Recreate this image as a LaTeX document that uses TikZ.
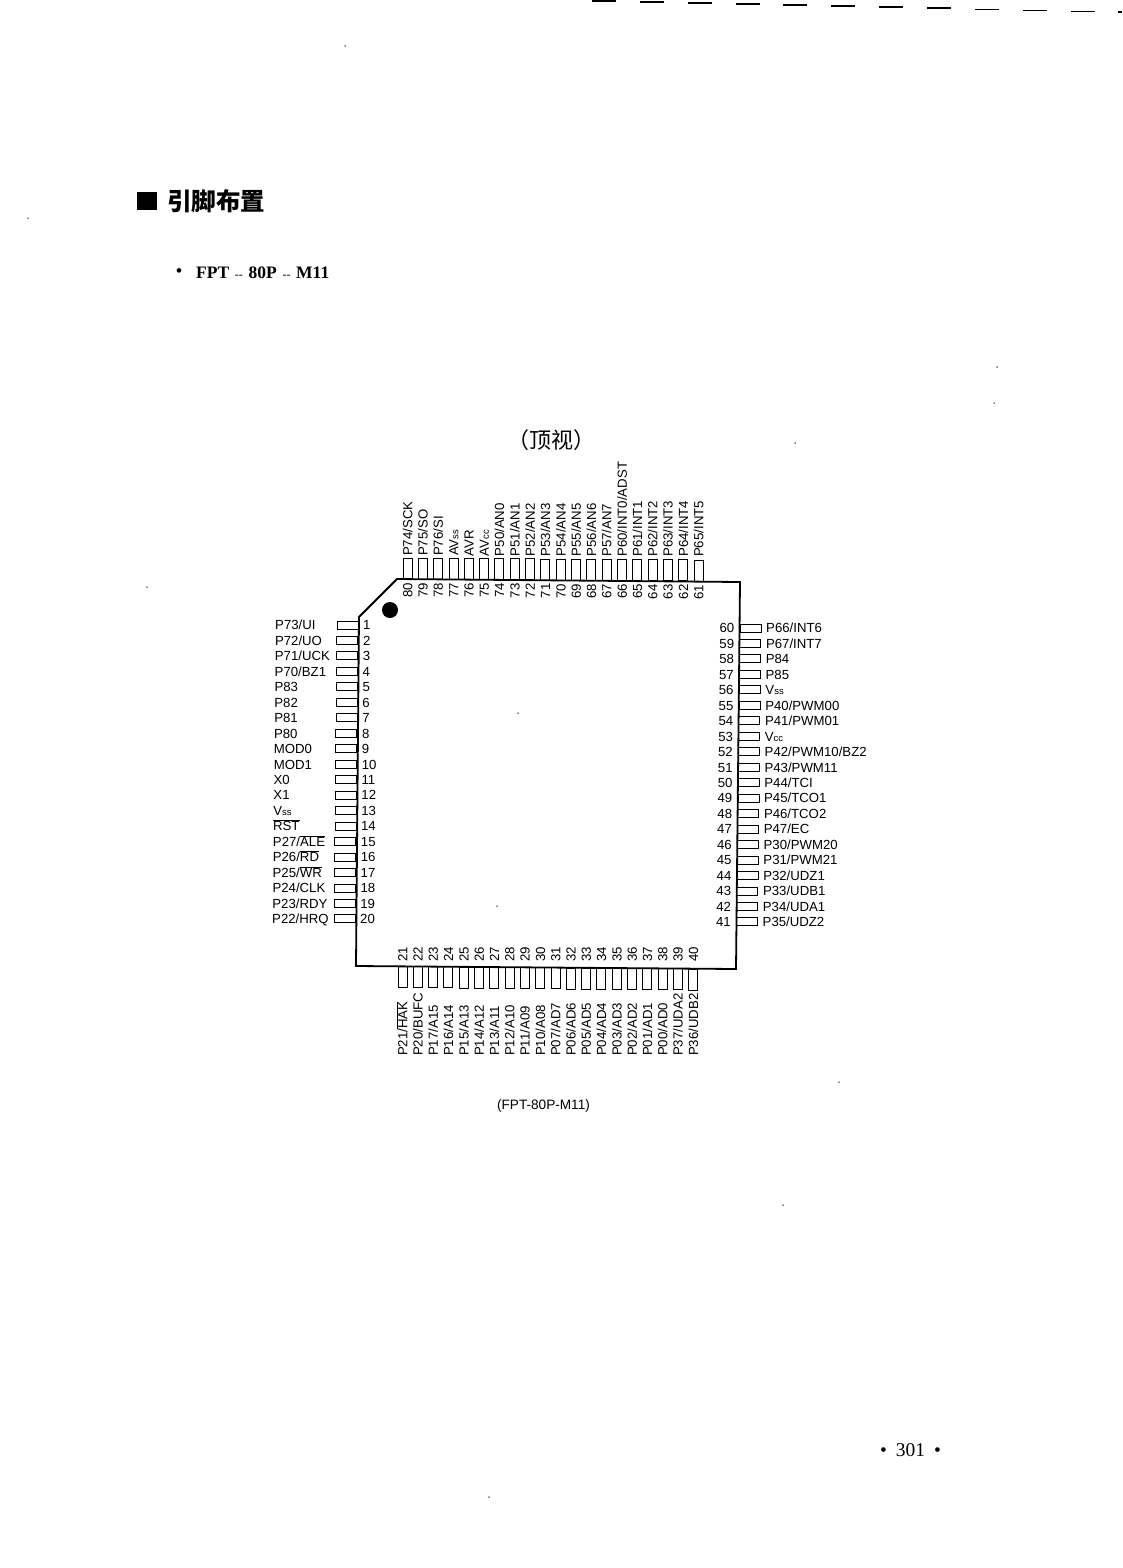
\documentclass[tikz,border=0pt]{standalone}
\usepackage{fontspec}
\setmainfont{Liberation Sans}
\newfontfamily\cjkfont{Noto Sans CJK SC}
\newfontfamily\romanfont{Liberation Serif}
\newcommand{\ovl}[1]{\ensuremath{\overline{\mbox{#1}}}}
\newcommand{\lowtxt}[1]{{\fontsize{9.5}{10}\selectfont #1}}
\newcommand{\thindash}{\hspace{5.7pt}{\mdseries\fontsize{12}{14}\selectfont --}\hspace{5.7pt}}
\tikzset{
	pinh/.style={rectangle, draw, inner sep=0, minimum width=21, minimum height=8, line width=0.9pt},
	pinv/.style={rectangle, draw, inner sep=0, minimum width=9, minimum height=21, line width=0.9pt},
	pintext/.style={inner sep=0, font=\fontsize{13.2}{15}\selectfont, text height=9.6pt, text depth=0pt},
	speck/.style={circle, fill, inner sep=0, minimum size=1.5}
}

\begin{document}
\begin{tikzpicture}[x=1pt, y=-1pt]
	\useasboundingbox (0, 0) rectangle (1122, 1568);
	% package outline
	\draw [line width=1.8pt, line join=miter] (397, 579) -- (740, 582) -- (736, 969) -- (356, 966) -- (359, 617) -- cycle;
	\draw (390, 610) node [circle, fill, inner sep=0, minimum size=16] (dot) {};
	% left side
	\foreach \lab [count=\n from 1] in {P73/UI, P72/UO, P71/UCK, P70/BZ1, P83, P82, P81, P80, MOD0, MOD1, X0, X1, V\lowtxt{ss}, \ovl{RST}, P27/\ovl{ALE}, P26/\ovl{RD}, P25/\ovl{WR}, P24/CLK, P23/RDY, P22/HRQ} {
		\pgfmathsetmacro{\ypos}{625+(\n-1)*15.47}
		\pgfmathsetmacro{\shift}{(\n-1)*3/19}
		\draw ({347.5-\shift}, \ypos) node [pinh] (p\n) {};
		\draw ({275-\shift}, \ypos) node [pintext, anchor=west] (l\n) {\lab};
		\draw ({363-\shift}, \ypos) node [pintext, anchor=west] (n\n) {\n};
	}
	% bottom side
	\foreach \lab [count=\n from 21] in {P21/\ovl{HAK}, P20/BUFC, P17/A15, P16/A14, P15/A13, P14/A12, P13/A11, P12/A10, P11/A09, P10/A08, P07/AD7, P06/AD6, P05/AD5, P04/AD4, P03/AD3, P02/AD2, P01/AD1, P00/AD0, P37/UDA2, P36/UDB2} {
		\pgfmathsetmacro{\xpos}{402.5+(\n-21)*15.3}
		\pgfmathsetmacro{\shift}{(\n-21)*2.5/19}
		\draw (\xpos, {977+\shift}) node [pinv] (p\n) {};
		\draw (\xpos, 1056) node [pintext, rotate=90, anchor=west] (l\n) {\lab};
		\draw (\xpos, 954) node [pintext, rotate=90] (n\n) {\n};
	}
	% right side
	\foreach \lab [count=\i from 0, evaluate=\i as \n using int(60-\i)] in {P66/INT6, P67/INT7, P84, P85, V\lowtxt{ss}, P40/PWM00, P41/PWM01, V\lowtxt{cc}, P42/PWM10/BZ2, P43/PWM11, P44/TCI, P45/TCO1, P46/TCO2, P47/EC, P30/PWM20, P31/PWM21, P32/UDZ1, P33/UDB1, P34/UDA1, P35/UDZ2} {
		\pgfmathsetmacro{\ypos}{628+\i*15.47}
		\pgfmathsetmacro{\shift}{\i*3.5/19}
		\draw ({750.5-\shift}, \ypos) node [pinh] (p\n) {};
		\draw ({766-\shift}, \ypos) node [pintext, anchor=west] (l\n) {\lab};
		\draw ({734.5-\shift}, \ypos) node [pintext, anchor=east] (n\n) {\n};
	}
	% top side
	\foreach \lab [count=\i from 0, evaluate=\i as \n using int(80-\i)] in {P74/SCK, P75/SO, P76/SI, AV\lowtxt{ss}, AVR, AV\lowtxt{cc}, P50/AN0, P51/AN1, P52/AN2, P53/AN3, P54/AN4, P55/AN5, P56/AN6, P57/AN7, P60/INT0/ADST, P61/INT1, P62/INT2, P63/INT3, P64/INT4, P65/INT5} {
		\pgfmathsetmacro{\xpos}{407.5+\i*15.32}
		\pgfmathsetmacro{\shift}{\i*2/19}
		\draw (\xpos, {568.5+\shift}) node [pinv] (p\n) {};
		\draw (\xpos, {556+\shift/2}) node [pintext, rotate=90, anchor=west] (l\n) {\lab};
		\draw (\xpos, {590+\shift}) node [pintext, rotate=90] (n\n) {\n};
	}
	% page texts
	\draw (147, 201) node [rectangle, fill, inner sep=0, minimum width=20, minimum height=18] (mark) {};
	\draw (167, 201) node [anchor=west, inner sep=0, font=\cjkfont\bfseries\fontsize{24.5}{26}\selectfont] (title) {引脚布置};
	\draw (179, 273) node [inner sep=0, font=\romanfont\bfseries\fontsize{17}{18}\selectfont] (bullet) {•};
	\draw (196, 273) node [anchor=west, inner sep=0, font=\romanfont\bfseries\fontsize{17.5}{19}\selectfont] (pkg) {FPT\thindash 80P\thindash M11};
	\draw (551, 440) node [inner sep=0, font=\cjkfont\fontsize{22}{24}\selectfont] (view) {（顶视）};
	\draw (543.5, 1106) node [inner sep=0, font=\fontsize{13.6}{15}\selectfont] (caption) {(FPT-80P-M11)};
	\draw (910.5, 1450) node [inner sep=0, font=\romanfont\fontsize{19.5}{21}\selectfont] (page) {•\hspace{9pt}301\hspace{9pt}•};
	% dashes along the top edge
	\foreach \k in {0,...,10} {
		\fill ({592+\k*47.85}, {\k*1.07}) rectangle +(24, 1.6);
	}
	\fill (1118, 11) rectangle +(4, 1.6);
	% scan specks
	\foreach \sx/\sy [count=\s] in {345/46, 997/367, 994/403, 147/587, 28/218, 518/713, 497/906, 795/443, 839/1082, 783/1205, 489/1497} {
		\draw (\sx, \sy) node [speck] (s\s) {};
	}
\end{tikzpicture}
\end{document}
